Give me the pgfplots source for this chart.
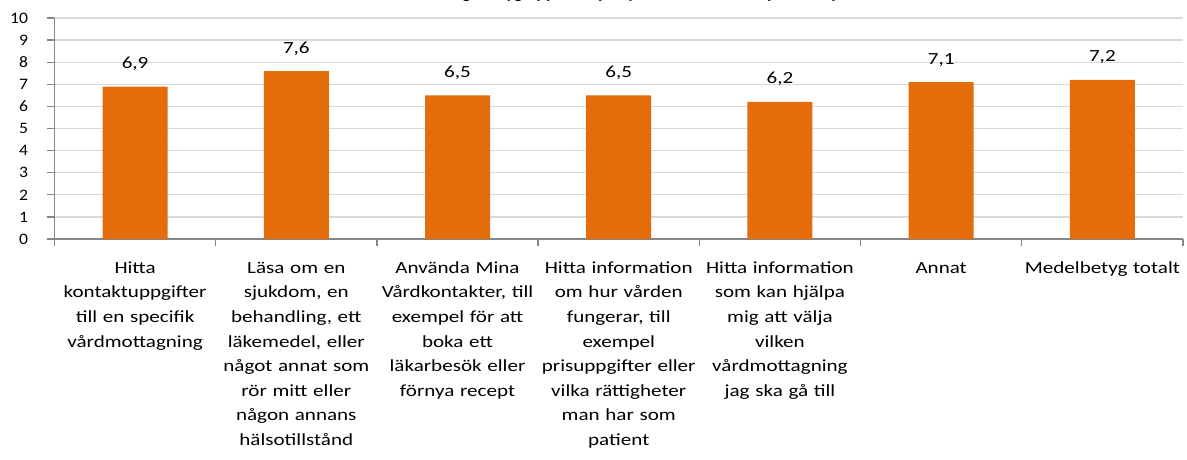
\documentclass[border=0pt]{standalone}
\usepackage{pgfplots}
\pgfplotsset{compat=1.18}
\usepackage{fontspec}
\setmainfont{Carlito}
\newfontfamily\lab{Carlito}[FakeStretch=1.24]
\newfontfamily\tickf{Carlito}[FakeStretch=1.1]
\definecolor{barorange}{HTML}{E46C0A}
\definecolor{axisgray}{HTML}{868686}
\definecolor{gridgray}{HTML}{D9D9D9}
\begin{document}
\begin{tikzpicture}[x=1pt,y=1pt]
\begin{axis}[
  at={(54.5pt,-239pt)}, anchor=south west,
  scale only axis, width=1128.5pt, height=221pt,
  xmin=-0.5, xmax=6.5, ymin=0, ymax=10,
  ybar, bar width=65pt,
  axis lines*=left,
  axis line style={draw=axisgray, line width=1.3pt},
  ytick={0,1,...,10},
  ymajorgrids, grid style={draw=gridgray, line width=1.3pt},
  xtick={-0.5,0.5,1.5,2.5,3.5,4.5,5.5,6.5}, xticklabels={},
  extra x ticks={0,1,2,3,4,5,6},
  extra x tick labels={
    {\strut Hitta\\kontaktuppgifter\\till en specifik\\vårdmottagning},
    {\strut Läsa om en\\sjukdom, en\\behandling, ett\\läkemedel, eller\\något annat som\\rör mitt eller\\någon annans\\hälsotillstånd},
    {\strut Använda Mina\\Vårdkontakter, till\\exempel för att\\boka ett\\läkarbesök eller\\förnya recept},
    {\strut Hitta information\\om hur vården\\fungerar, till\\exempel\\prisuppgifter eller\\vilka rättigheter\\man har som\\patient},
    {\strut Hitta information\\som kan hjälpa\\mig att välja\\vilken\\vårdmottagning\\jag ska gå till},
    {\strut Annat},
    {\strut Medelbetyg totalt}},
  extra x tick style={grid=none, major tick length=0pt,
    xticklabel style={text width=180pt, align=center, anchor=north,
      font=\lab\fontsize{17}{24.6}\selectfont, yshift=-13.5pt}},
  tick align=outside, major tick length=7pt,
  tick style={draw=axisgray, line width=1.3pt},
  tick label style={font=\tickf\fontsize{16}{19}\selectfont},
  yticklabel style={xshift=-16pt},
  /pgf/number format/assume math mode=true,
  /pgf/number format/use comma,
  nodes near coords={\pgfmathprintnumber[fixed,fixed zerofill,precision=1,use comma,assume math mode=true]{\pgfplotspointmeta}},
  nodes near coords style={font=\lab\fontsize{17}{20}\selectfont, anchor=base, yshift=18pt, text=black},
  clip=false,
]
\addplot[fill=barorange, draw=none] coordinates {(0,6.9) (1,7.6) (2,6.5) (3,6.5) (4,6.2) (5,7.1) (6,7.2)};
\end{axis}
\node[font=\bfseries\fontsize{18}{22}\selectfont, anchor=base] at (626,1.5) {Genomsnittligt betyg uppdelat på syftet med besöket på webbplatsen};
\pgfresetboundingbox
\path[use as bounding box] (0,0) rectangle (1187,-459);
\end{tikzpicture}
\end{document}
